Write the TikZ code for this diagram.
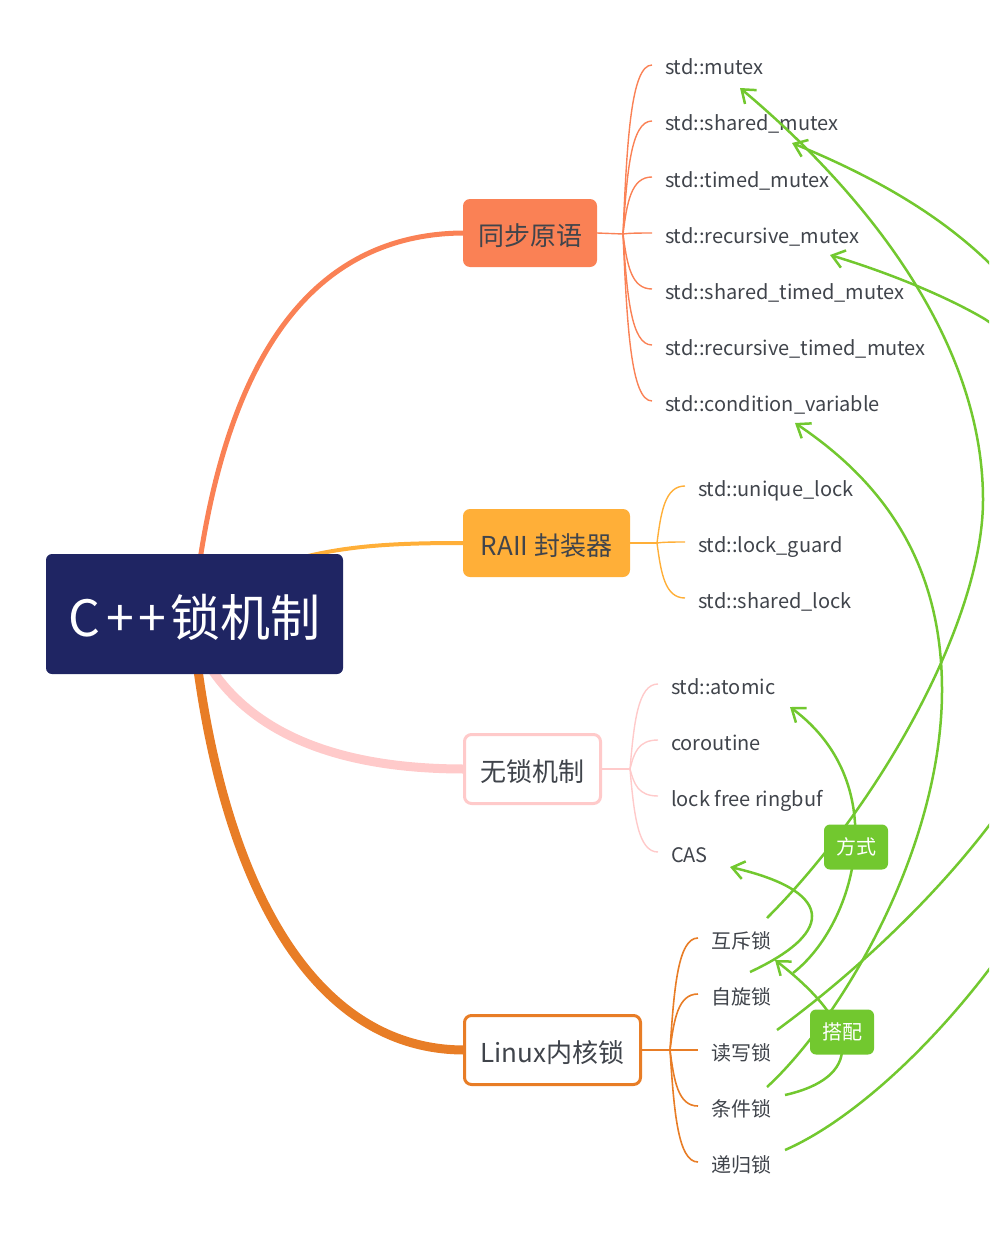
\documentclass[tikz,border=0pt]{standalone}
\usepackage{fontspec}
\setmainfont{Noto Sans CJK SC}
\usetikzlibrary{arrows.meta,calc,backgrounds}
\definecolor{navy}{HTML}{1F2563}
\definecolor{cA}{HTML}{FA8155}
\definecolor{cB}{HTML}{FFAF38}
\definecolor{cC}{HTML}{FFCACA}
\definecolor{cD}{HTML}{E87D26}
\definecolor{cG}{HTML}{72C82F}
\definecolor{txt}{HTML}{40444B}
\newcommand\twig[3]{\draw[#1] let \p1=(#2), \p2=([xshift=-13pt,yshift=3pt]#3.west) in (\p1) .. controls ({\x1+4pt},{\y1+0.55*(\y2-\y1)}) and ({\x1+8pt},\y2) .. (\p2);}
\begin{document}
\begin{tikzpicture}[x=1pt,y=-1pt,
  every node/.style={inner sep=0pt, outer sep=0pt},
  topic/.style={rounded corners=7pt, minimum width=#1, minimum height=68pt, font=\fontsize{26}{30}\selectfont, text=txt, text height=25pt, text depth=0pt},
  leaf/.style={anchor=west, font=\fontsize{20}{24}\selectfont, text=txt, text height=17pt, text depth=3pt},
  lab/.style={fill=cG, rounded corners=6pt, minimum width=64pt, minimum height=45pt, text=white, font=\fontsize{20}{24}\selectfont},
  rel/.style={draw=cG, line width=2.5pt, -{Straight Barb[length=12pt,width=18pt]}},
  brA/.style={draw=cA, line width=1.4pt},
  brB/.style={draw=cB, line width=1.4pt},
  brC/.style={draw=cC, line width=1.4pt},
  brD/.style={draw=cD, line width=1.6pt}]
\useasboundingbox (0,0) rectangle (989,1236);

% root
\node[fill=navy, rounded corners=6pt, minimum width=297pt, minimum height=120pt, text=white, font=\fontsize{50}{56}\selectfont, text height=44pt, text depth=0pt] (root) at (194.5,614) {C\kern6pt+\kern5pt+\kern4pt锁机制};

% main topics
\node[topic=134pt, fill=cA] (t1) at (530,233) {同步原语};
\node[topic=167pt, fill=cB] (t2) at (546.5,543) {RAII 封装器};
\node[topic=136pt, draw=cC, line width=3pt, fill=white, minimum height=69pt] (t3) at (532.5,769) {无锁机制};
\node[topic=176pt, draw=cD, line width=3pt, fill=white, minimum height=69pt] (t4) at (552.5,1050) {Linux内核锁};

\begin{pgfonlayer}{background}
\draw[line width=5pt, cA] ([xshift=154pt,yshift=-6pt]root.north west) .. controls (235,330) and (330,234) .. (t1.west);
\draw[line width=4pt, cB] ([xshift=254pt,yshift=-4pt]root.north west) .. controls (350,545) and (400,543) .. (t2.west);
\draw[line width=9pt, cC] ([xshift=166pt,yshift=4pt]root.south west) .. controls (260,740) and (350,769) .. (t3.west);
\draw[line width=9pt, cD] ([xshift=152pt,yshift=4pt]root.south west) .. controls (230,900) and (320,1050) .. (t4.west);
\end{pgfonlayer}

% leaves
\node[leaf] (s1) at (665,68) {std::mutex};
\node[leaf] (s2) at (665,124) {std::shared\_mutex};
\node[leaf] (s3) at (665,180) {std::timed\_mutex};
\node[leaf] (s4) at (665,236) {std::recursive\_mutex};
\node[leaf] (s5) at (665,292) {std::shared\_timed\_mutex};
\node[leaf] (s6) at (665,348) {std::recursive\_timed\_mutex};
\node[leaf] (s7) at (665,404) {std::condition\_variable};

\node[leaf] (r1) at (698,489) {std::unique\_lock};
\node[leaf] (r2) at (698,545) {std::lock\_guard};
\node[leaf] (r3) at (698,601) {std::shared\_lock};

\node[leaf] (w1) at (671,687) {std::atomic};
\node[leaf] (w2) at (671,743) {coroutine};
\node[leaf] (w3) at (671,799) {lock free ringbuf};
\node[leaf] (w4) at (671,855) {CAS};

\node[leaf] (l1) at (711,941) {互斥锁};
\node[leaf] (l2) at (711,997) {自旋锁};
\node[leaf] (l3) at (711,1053) {读写锁};
\node[leaf] (l4) at (711,1109) {条件锁};
\node[leaf] (l5) at (711,1165) {递归锁};

% junctions
\coordinate (j1) at (623,234);
\coordinate (j2) at (657,543);
\coordinate (j3) at (630,769);
\coordinate (j4) at (670,1050);

\draw[brA] (t1.east) -- (j1);
\foreach \c in {s1,s2,s3,s4,s5,s6,s7} {\twig{brA}{j1}{\c}}
\draw[brB] (t2.east) -- (j2);
\foreach \c in {r1,r2,r3} {\twig{brB}{j2}{\c}}
\draw[brC] (t3.east) -- (j3);
\foreach \c in {w1,w2,w3,w4} {\twig{brC}{j3}{\c}}
\draw[brD] (t4.east) -- (j4);
\foreach \c in {l1,l2,l3,l4,l5} {\twig{brD}{j4}{\c}}

% relationships
\begin{scope}
\clip (0,0) rectangle (989,1236);
% 互斥锁 -> std::mutex
\draw[rel] ($(l1.north west)+(56,-13)$) .. controls (880,805) and (983,620) .. (983,500) .. controls (983,330) and (850,180) .. ($(s1.south west)+(75,10)$);
% 自旋锁 -> std::atomic
\draw[rel] ($(l2.north west)+(82,-14)$) .. controls (855,925) and (895,785) .. ($(w1.south west)+(119,10)$);
% 自旋锁 -> CAS
\draw[rel] ($(l2.north west)+(39,-15)$) .. controls (840,930) and (830,890) .. ($(w4.south west)+(59,2)$);
% 条件锁 -> 互斥锁
\draw[rel] ($(l4.north west)+(74,-4)$) .. controls (860,1078) and (865,1030) .. ($(l1.south west)+(64,9)$);
% 条件锁 -> std::condition_variable
\draw[rel] ($(l4.north west)+(56,-12)$) .. controls (840,1020) and (942,850) .. (942,690) .. controls (942,560) and (880,480) .. ($(s7.south west)+(130,9)$);
% 读写锁 -> std::shared_mutex
\draw[rel] ($(l3.north west)+(66,-13)$) .. controls (900,940) and (1100,750) .. (1100,550) .. controls (1100,330) and (980,220) .. ($(s2.south west)+(127,9)$);
% 递归锁 -> std::recursive_mutex
\draw[rel] ($(l5.north west)+(74,-5)$) .. controls (900,1100) and (1080,900) .. (1130,680) .. controls (1130,500) and (1030,345) .. (983,318) .. controls (940,293) and (880,270) .. ($(s4.south west)+(165,9)$);
\end{scope}

\node[lab] (fs) at (856,847) {方式};
\node[lab] (dp) at (842,1032) {搭配};
\end{tikzpicture}
\end{document}
